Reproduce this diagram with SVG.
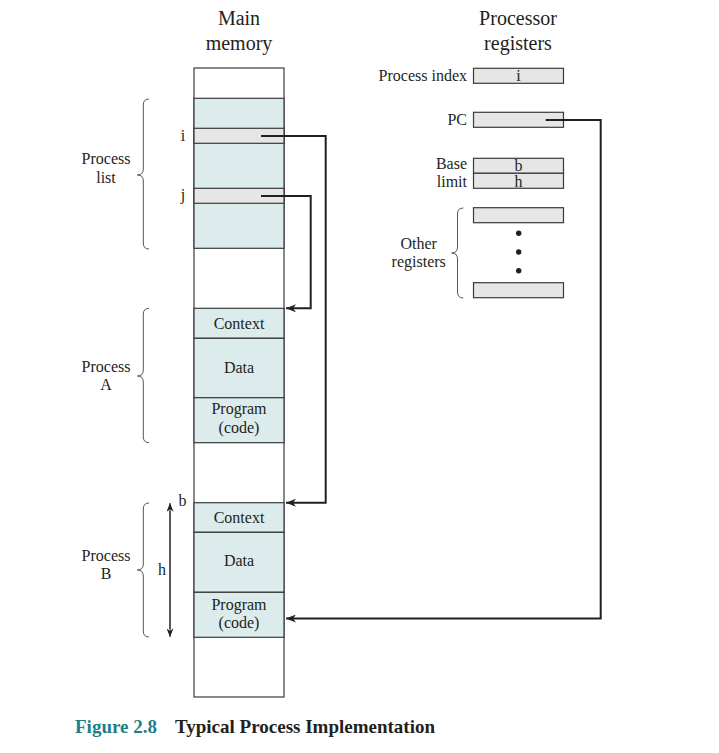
<svg xmlns="http://www.w3.org/2000/svg" width="719" height="753" viewBox="0 0 719 753">
<style>
  text { font-family: "Liberation Serif", "Times New Roman", serif; fill: #231f20; }
  .t { font-size: 20px; text-anchor: middle; }
  .l { font-size: 16px; }
  .c { text-anchor: middle; }
  .r { text-anchor: end; }
  .mem { fill: #ffffff; stroke: #3a3a3a; stroke-width: 1.2; }
  .blue { fill: #dcebeb; stroke: #3a3a3a; stroke-width: 1.2; }
  .grey { fill: #e6e6e7; stroke: #3a3a3a; stroke-width: 1.2; }
  .brace { fill: none; stroke: #555; stroke-width: 1; }
  .conn { fill: none; stroke: #231f20; stroke-width: 2; }
  .dim { fill: none; stroke: #231f20; stroke-width: 1; }
</style>
<defs>
  <marker id="ah" viewBox="0 0 10 8" refX="10" refY="4" markerWidth="10" markerHeight="8" orient="auto" markerUnits="userSpaceOnUse">
    <path d="M0,0 L10,4 L0,8 L3,4 Z" fill="#231f20"/>
  </marker>
  <marker id="ahs" viewBox="0 0 10 8" refX="10" refY="4" markerWidth="10" markerHeight="7" orient="auto-start-reverse" markerUnits="userSpaceOnUse">
    <path d="M0,0 L10,4 L0,8 L3,4 Z" fill="#231f20"/>
  </marker>
</defs>
<rect width="719" height="753" fill="#ffffff"/>

<g id="titles">
  <text class="t" x="239" y="25">Main</text>
  <text class="t" x="239" y="50">memory</text>
  <text class="t" x="518" y="25">Processor</text>
  <text class="t" x="518" y="50">registers</text>
</g>

<g id="main-memory">
  <rect class="mem" x="194" y="68" width="90" height="629"/>
</g>

<g id="process-list">
  <rect class="blue" x="194" y="98.3" width="90" height="150"/>
  <rect class="grey" x="194" y="128.3" width="90" height="15"/>
  <rect class="grey" x="194" y="188.3" width="90" height="15"/>
  <text class="l c" x="183" y="141">i</text>
  <text class="l c" x="183" y="200">j</text>
  <path class="brace" d="M149,99 Q143.3,99 143.3,105 L143.3,169 Q143.3,175 137.3,175 Q143.3,175 143.3,181 L143.3,243 Q143.3,249 149,249"/>
  <text class="l c" x="106" y="164">Process</text>
  <text class="l c" x="106" y="183">list</text>
</g>

<g id="process-a">
  <rect class="blue" x="194" y="308.3" width="90" height="30"/>
  <rect class="blue" x="194" y="338.3" width="90" height="59.4"/>
  <rect class="blue" x="194" y="397.7" width="90" height="45"/>
  <text class="l c" x="239" y="328.5">Context</text>
  <text class="l c" x="239" y="372.7">Data</text>
  <text class="l c" x="239" y="414.3">Program</text>
  <text class="l c" x="239" y="432.7">(code)</text>
  <path class="brace" d="M149,308.3 Q143.3,308.3 143.3,314.3 L143.3,370 Q143.3,376 137.3,376 Q143.3,376 143.3,382 L143.3,436.7 Q143.3,442.7 149,442.7"/>
  <text class="l c" x="106" y="371.7">Process</text>
  <text class="l c" x="106" y="390">A</text>
</g>

<g id="process-b">
  <rect class="blue" x="194" y="502.7" width="90" height="29.6"/>
  <rect class="blue" x="194" y="532.3" width="90" height="60"/>
  <rect class="blue" x="194" y="592.3" width="90" height="45"/>
  <text class="l c" x="239" y="522.7">Context</text>
  <text class="l c" x="239" y="566">Data</text>
  <text class="l c" x="239" y="610">Program</text>
  <text class="l c" x="239" y="628.3">(code)</text>
  <path class="brace" d="M149,503 Q143.3,503 143.3,509 L143.3,564 Q143.3,570 137.3,570 Q143.3,570 143.3,576 L143.3,631 Q143.3,637 149,637"/>
  <text class="l c" x="106" y="561">Process</text>
  <text class="l c" x="106" y="579.3">B</text>
  <line class="dim" x1="170" y1="511" x2="170" y2="629"/>
  <line class="dim" x1="170" y1="503" x2="170" y2="637" marker-start="url(#ahs)" marker-end="url(#ahs)"/>
  <text class="l c" x="162" y="575">h</text>
  <text class="l c" x="182.5" y="506">b</text>
</g>

<g id="processor-registers">
  <rect class="grey" x="473.5" y="68.3" width="90" height="15"/>
  <text class="l c" x="518.5" y="80.7">i</text>
  <text class="l r" x="467" y="80.7">Process index</text>
  <rect class="grey" x="473.5" y="112.3" width="90" height="15"/>
  <text class="l r" x="467" y="125">PC</text>
  <rect class="grey" x="473.5" y="158.3" width="90" height="15"/>
  <rect class="grey" x="473.5" y="173.3" width="90" height="15"/>
  <text class="l c" x="518.5" y="170.5">b</text>
  <text class="l c" x="518.5" y="186.5">h</text>
  <text class="l r" x="467" y="169">Base</text>
  <text class="l r" x="467" y="187.3">limit</text>
  <rect class="grey" x="473.5" y="207.7" width="90" height="15"/>
  <rect class="grey" x="473.5" y="282.7" width="90" height="15"/>
  <circle cx="518.7" cy="233.3" r="2.7" fill="#231f20"/>
  <circle cx="518.7" cy="252" r="2.7" fill="#231f20"/>
  <circle cx="518.7" cy="270.7" r="2.7" fill="#231f20"/>
  <path class="brace" d="M463.3,208 Q457.5,208 457.5,214 L457.5,247 Q457.5,253 451.7,253 Q457.5,253 457.5,259 L457.5,292 Q457.5,298 463.3,298"/>
  <text class="l c" x="418.7" y="249.3">Other</text>
  <text class="l c" x="418.7" y="267.3">registers</text>
</g>

<g id="connectors">
  <path class="conn" d="M261,136 H325.7 V502.7 H286" marker-end="url(#ah)"/>
  <path class="conn" d="M261,196 H310.7 V308.3 H286" marker-end="url(#ah)"/>
  <path class="conn" d="M545.7,120 H600.7 V618.5 H286" marker-end="url(#ah)"/>
</g>

<g id="caption">
  <text x="75" y="733" style="font-size:19px;font-weight:bold;"><tspan fill="#1b7f87" style="fill:#1b7f87">Figure 2.8</tspan><tspan x="175">Typical Process Implementation</tspan></text>
</g>
</svg>
